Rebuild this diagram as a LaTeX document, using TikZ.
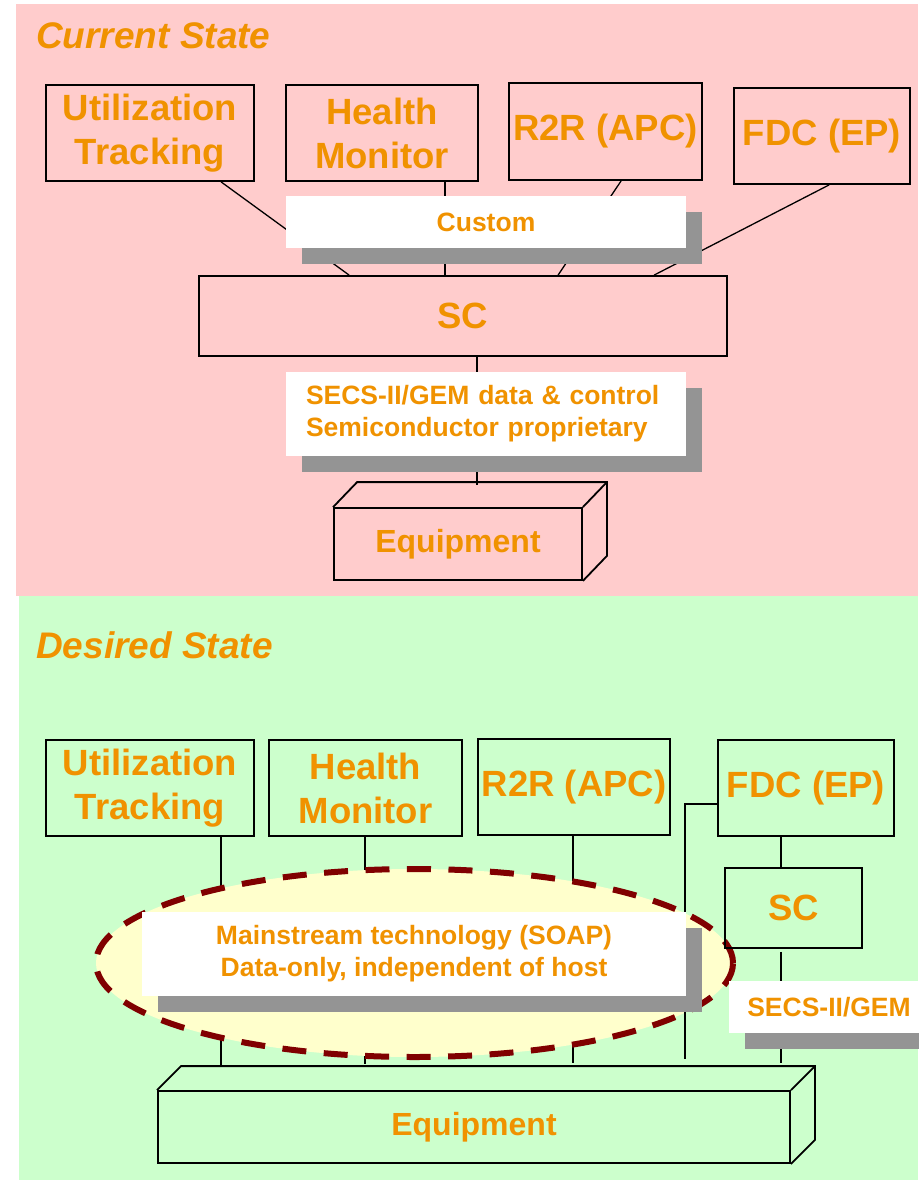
\documentclass[tikz,border=0pt]{standalone}
\usepackage{fontspec}
\setmainfont{Liberation Sans}
\usetikzlibrary{calc,shapes.geometric,shadows}
\definecolor{orng}{RGB}{240,146,0}
\definecolor{pinkbg}{RGB}{255,204,204}
\definecolor{greenbg}{RGB}{204,255,204}
\definecolor{shgray}{RGB}{148,148,148}
\definecolor{ylw}{RGB}{255,255,204}
\definecolor{dred}{RGB}{128,0,0}
\begin{document}
\begin{tikzpicture}[x=1pt,y=-1pt,
  box/.style={draw=black, line width=1.8pt, inner sep=0pt, text=orng, font=\fontsize{36.5}{44}\selectfont\bfseries, align=center},
  eqbox/.style={draw=black, line width=1.8pt, inner sep=0pt, text=orng, font=\fontsize{32}{38}\selectfont\bfseries},
  conn/.style={line width=1.3pt, draw=black},
  myshadow/.style={drop shadow={shadow xshift=16pt, shadow yshift=-16pt, fill=shgray, opacity=1}},
  whitebox/.style={fill=white, draw=none, inner sep=0pt, text=orng, font=\fontsize{26.5}{32}\selectfont\bfseries, align=center, myshadow},
  title/.style={text=orng, font=\fontsize{37}{44}\selectfont\bfseries\itshape, inner sep=0pt, anchor=base west},
  threed/.style={line width=1.8pt, line join=miter, draw=black},
  ell/.style={ellipse, draw=dred, fill=ylw, line width=6pt, dash pattern=on 24pt off 17.5pt, inner sep=0pt}
]
\fill[pinkbg] (16,4) rectangle (918,596);
\fill[greenbg] (19,596) rectangle (918,1180);
\useasboundingbox (0,0) rectangle (918,1180);

% ---------- Current State ----------
\node[title] (t1) at (36,49) {Current State};
\node[box, minimum width=208pt, minimum height=96pt] (ut1) at (150,133) {Utilization\\Tracking};
\node[box, minimum width=192pt, minimum height=96pt] (hm1) at (382,133) {Health\\Monitor};
\node[box, minimum width=193pt, minimum height=97pt] (rr1) at (605.5,131.5) {R2R (APC)};
\node[box, minimum width=176pt, minimum height=96pt] (fd1) at (822,136) {FDC (EP)};
\node[box, minimum width=528pt, minimum height=80pt] (sc1) at (463,316) {SC};
\node[eqbox, minimum width=248pt, minimum height=72pt] (eq1) at (458,544) {Equipment};
\draw[threed] (eq1.north west) -- ($(eq1.north west)+(24,-25)$) -- ($(eq1.north east)+(24,-25)$) -- ($(eq1.south east)+(24,-25)$) -- (eq1.south east);
\draw[threed] (eq1.north east) -- ($(eq1.north east)+(24,-25)$);

\draw[conn] ($(ut1.south west)+(176,0)$) -- ($(sc1.north west)+(151,0)$);
\draw[conn] ($(hm1.south west)+(160,0)$) -- ($(sc1.north west)+(247,0)$);
\draw[conn] ($(rr1.south west)+(113,0)$) -- ($(sc1.north west)+(360,0)$);
\draw[conn] ($(fd1.south west)+(96,0)$) -- ($(sc1.north west)+(456,0)$);
\draw[conn] ($(sc1.south west)+(279,0)$) -- ($(eq1.north west)+(144,-22)$);

\node[whitebox, minimum width=400pt, minimum height=52pt] (cu1) at (486,222) {Custom};
\node[whitebox, minimum height=84pt, inner xsep=20pt, text width=360pt, align=left] (se1) at (486,414)
  {SECS-II/GEM data \& control\\Semiconductor proprietary};

% ---------- Desired State ----------
\node[title] (t2) at (36,658) {Desired State};
\node[box, minimum width=208pt, minimum height=96pt] (ut2) at (150,788) {Utilization\\Tracking};
\node[box, minimum width=193pt, minimum height=96pt] (hm2) at (365.5,788) {Health\\Monitor};
\node[box, minimum width=192pt, minimum height=96pt] (rr2) at (574,787) {R2R (APC)};
\node[box, minimum width=176pt, minimum height=96pt] (fd2) at (806,788) {FDC (EP)};
\node[eqbox, minimum width=632pt, minimum height=72pt] (eq2) at (474,1127) {Equipment};
\draw[threed] (eq2.north west) -- ($(eq2.north west)+(24,-24)$) -- ($(eq2.north east)+(24,-24)$) -- ($(eq2.south east)+(24,-24)$) -- (eq2.south east);
\draw[threed] (eq2.north east) -- ($(eq2.north east)+(24,-24)$);

\draw[conn] ($(ut2.south west)+(176,0)$) -- ($(eq2.north west)+(64,-24)$);
\draw[conn] ($(hm2.south west)+(97,0)$) -- ($(eq2.north west)+(208,-26)$);
\draw[conn] ($(rr2.south west)+(96,0)$) -- ($(eq2.north west)+(416,-27)$);

\node[ell, minimum width=637pt, minimum height=188pt] (el) at (414.5,963) {};

\draw[conn] ($(fd2.west)+(0,16)$) -| ($(eq2.north west)+(528,-31)$);
\node[box, minimum width=137pt, minimum height=80pt] (sc2) at (793.5,908) {SC};
\draw[conn] ($(fd2.south west)+(64,0)$) -- ($(sc2.north west)+(57,0)$);
\draw[conn] ($(sc2.south west)+(57,3)$) -- ($(eq2.north west)+(624,-27)$);

\node[whitebox, minimum width=544pt, minimum height=84pt] (ms) at (414,954)
  {Mainstream technology (SOAP)\\Data-only, independent of host};
\node[whitebox, minimum width=200pt, minimum height=52pt] (sg) at (829,1007) {SECS-II/GEM};
\end{tikzpicture}
\end{document}
